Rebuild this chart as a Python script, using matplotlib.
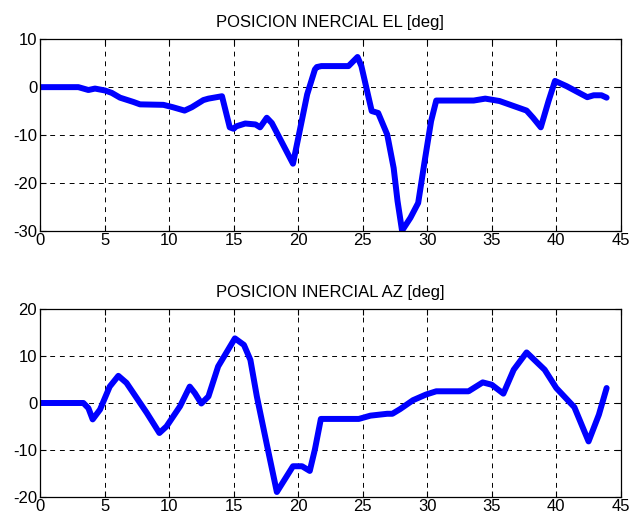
import numpy as np
import matplotlib
matplotlib.use("Agg")
import matplotlib.pyplot as plt

# Posicion inercial EL [deg]
t_el = [0, 2.97, 3.75, 4.26, 5.04, 5.56, 6.2, 7.24, 7.75, 9.56, 10.3, 11.2, 11.76,
        12.66, 13.05, 14.1, 14.7, 15.0, 15.2, 15.9, 16.7, 17.05, 17.57, 17.96, 19.6,
        20.7, 21.3, 21.45, 21.8, 23.9, 24.6, 24.9, 25.7, 26.2, 26.9, 27.4, 27.7,
        28.05, 28.7, 29.3, 29.8, 30.3, 30.7, 33.6, 34.5, 35.6, 37.7, 38.2, 38.8,
        39.4, 39.9, 40.8, 42.4, 42.9, 43.5, 43.9]
el = [0, 0, -0.6, -0.3, -0.7, -1.2, -2.2, -3.1, -3.6, -3.7, -4.2, -4.9, -4.2,
      -2.7, -2.4, -1.9, -8.4, -8.7, -8.2, -7.6, -7.8, -8.4, -6.4, -7.5, -16.0,
      -1.5, 3.7, 4.2, 4.4, 4.4, 6.3, 4.4, -5.0, -5.4, -9.9, -16.9, -23.8,
      -30.0, -27.3, -24.2, -15.5, -7.1, -2.8, -2.8, -2.4, -2.9, -4.9, -6.4, -8.4,
      -2.9, 1.3, 0.2, -2.1, -1.7, -1.7, -2.2]

# Posicion inercial AZ [deg]
t_az = [0, 3.36, 3.75, 4.08, 4.65, 5.4, 6.07, 6.7, 8.27, 9.25, 9.8, 10.85, 11.6,
        12.0, 12.5, 13.05, 13.8, 15.1, 15.8, 16.3, 16.8, 17.6, 18.35, 19.6, 20.3,
        20.9, 21.3, 21.76, 24.7, 25.6, 26.9, 27.3, 27.9, 28.9, 29.9, 30.7, 33.2,
        34.3, 35.0, 35.9, 36.7, 37.7, 39.1, 40.0, 41.4, 42.5, 43.3, 43.9]
az = [0, 0, -1.1, -3.5, -1.4, 3.5, 5.8, 4.3, -2.1, -6.4, -5.0, -0.7, 3.5,
      2.1, -0.1, 1.4, 7.8, 13.8, 12.4, 9.2, 1.4, -9.2, -19.0, -13.5, -13.5,
      -14.5, -9.9, -3.4, -3.4, -2.7, -2.3, -2.3, -1.3, 0.6, 1.8, 2.5, 2.5,
      4.4, 3.9, 2.0, 7.1, 10.8, 7.1, 3.2, -0.9, -8.2, -2.5, 3.2]

xticks = np.arange(0, 46, 5)

plt.rcParams['font.family'] = ['Liberation Sans', 'DejaVu Sans']
plt.rcParams['font.size'] = 12
plt.rcParams['axes.unicode_minus'] = False

fig = plt.figure(figsize=(6.29, 5.17), dpi=100)
ax1 = fig.add_axes([0.0636, 0.5538, 0.9234, 0.3702])
ax2 = fig.add_axes([0.0636, 0.0393, 0.9234, 0.3624])


def style(ax, yticks, title):
    ax.set_xlim(0, 45)
    ax.set_ylim(yticks[0], yticks[-1])
    ax.set_xticks(xticks)
    ax.set_yticks(yticks)
    ax.grid(True, color='black', linestyle=(0, (5, 5)), linewidth=0.7)
    ax.tick_params(direction='in', length=4, width=0.8, top=True, right=True,
                   colors='black', labelsize=12, pad=2)
    for s in ax.spines.values():
        s.set_linewidth(0.9)
    ax.set_title(title, fontsize=12, pad=9)


ax1.plot(t_el, el, color='#0000ff', linewidth=4.3, solid_joinstyle='round',
         solid_capstyle='round')
style(ax1, [-30, -20, -10, 0, 10], 'POSICION INERCIAL EL [deg]')

ax2.plot(t_az, az, color='#0000ff', linewidth=4.3, solid_joinstyle='round',
         solid_capstyle='round')
style(ax2, [-20, -10, 0, 10, 20], 'POSICION INERCIAL AZ [deg]')

fig.savefig('out.png', dpi=100)
